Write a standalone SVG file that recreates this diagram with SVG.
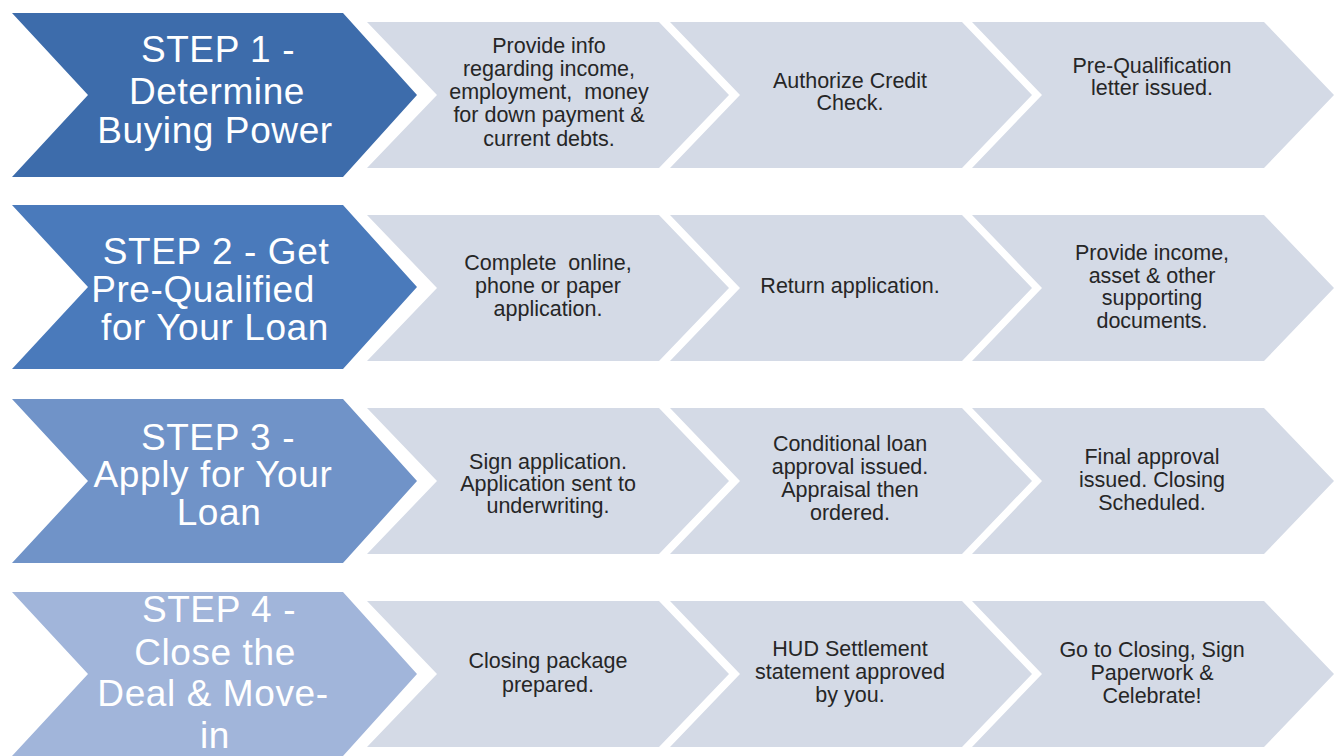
<svg xmlns="http://www.w3.org/2000/svg" xmlns:xlink="http://www.w3.org/1999/xlink" width="1338" height="756" viewBox="0 0 1338 756">
  <style>
    .lead-text { font-family: "Liberation Sans", Arial, sans-serif; font-size: 37px; letter-spacing: 0.6px; fill: #ffffff; text-anchor: middle; }
    .step-text { font-family: "Liberation Sans", Arial, sans-serif; font-size: 21.5px; fill: #262626; text-anchor: middle; white-space: pre; }
    .step-fill { fill: #d4dae6; }
  </style>
  <defs>
    <!-- lead chevron (step title), anchored at its left edge / vertical centre -->
    <polygon id="lead" points="0,-82 331,-82 405,0 331,82 0,82 76,0"/>
    <!-- process chevron, anchored at its left edge / vertical centre -->
    <polygon id="step" points="0,-73 292,-73 362,0 292,73 0,73 70,0"/>
  </defs>
  <rect width="1338" height="756" fill="#ffffff"/>

  <!-- Row 1 -->
  <g id="step1-title">
    <use xlink:href="#lead" transform="translate(12,95)" fill="#3d6cab"/>
    <text class="lead-text"><tspan x="218" y="62">STEP 1 -</tspan><tspan x="217" y="104">Determine</tspan><tspan x="215" y="143">Buying Power</tspan></text>
  </g>
  <g id="step1-a">
    <use xlink:href="#step" class="step-fill" transform="translate(367,95)"/>
    <text class="step-text"><tspan x="549" y="53">Provide info</tspan><tspan x="549" y="76">regarding income,</tspan><tspan x="549" y="99">employment,  money</tspan><tspan x="549" y="122">for down payment &amp;</tspan><tspan x="549" y="146">current debts.</tspan></text>
  </g>
  <g id="step1-b">
    <use xlink:href="#step" class="step-fill" transform="translate(670,95)"/>
    <text class="step-text"><tspan x="850" y="88">Authorize Credit</tspan><tspan x="850" y="110">Check.</tspan></text>
  </g>
  <g id="step1-c">
    <use xlink:href="#step" class="step-fill" transform="translate(972,95)"/>
    <text class="step-text"><tspan x="1152" y="73">Pre-Qualification</tspan><tspan x="1152" y="95">letter issued.</tspan></text>
  </g>

  <!-- Row 2 -->
  <g id="step2-title">
    <use xlink:href="#lead" transform="translate(12,287)" fill="#4a7abb"/>
    <text class="lead-text"><tspan x="216" y="264">STEP 2 - Get</tspan><tspan x="203" y="302">Pre-Qualified</tspan><tspan x="215" y="340">for Your Loan</tspan></text>
  </g>
  <g id="step2-a">
    <use xlink:href="#step" class="step-fill" transform="translate(367,288)"/>
    <text class="step-text"><tspan x="548" y="270">Complete  online,</tspan><tspan x="548" y="293">phone or paper</tspan><tspan x="548" y="316">application.</tspan></text>
  </g>
  <g id="step2-b">
    <use xlink:href="#step" class="step-fill" transform="translate(670,288)"/>
    <text class="step-text"><tspan x="850" y="293">Return application.</tspan></text>
  </g>
  <g id="step2-c">
    <use xlink:href="#step" class="step-fill" transform="translate(972,288)"/>
    <text class="step-text"><tspan x="1152" y="260">Provide income,</tspan><tspan x="1152" y="283">asset &amp; other</tspan><tspan x="1152" y="305">supporting</tspan><tspan x="1152" y="328">documents.</tspan></text>
  </g>

  <!-- Row 3 -->
  <g id="step3-title">
    <use xlink:href="#lead" transform="translate(12,481)" fill="#7093c8"/>
    <text class="lead-text"><tspan x="218" y="450">STEP 3 -</tspan><tspan x="213" y="487">Apply for Your</tspan><tspan x="219" y="525">Loan</tspan></text>
  </g>
  <g id="step3-a">
    <use xlink:href="#step" class="step-fill" transform="translate(367,481)"/>
    <text class="step-text"><tspan x="548" y="469">Sign application.</tspan><tspan x="548" y="491">Application sent to</tspan><tspan x="548" y="513">underwriting.</tspan></text>
  </g>
  <g id="step3-b">
    <use xlink:href="#step" class="step-fill" transform="translate(670,481)"/>
    <text class="step-text"><tspan x="850" y="451">Conditional loan</tspan><tspan x="850" y="474">approval issued.</tspan><tspan x="850" y="497">Appraisal then</tspan><tspan x="850" y="520">ordered.</tspan></text>
  </g>
  <g id="step3-c">
    <use xlink:href="#step" class="step-fill" transform="translate(972,481)"/>
    <text class="step-text"><tspan x="1152" y="464">Final approval</tspan><tspan x="1152" y="487">issued. Closing</tspan><tspan x="1152" y="510">Scheduled.</tspan></text>
  </g>

  <!-- Row 4 -->
  <g id="step4-title">
    <use xlink:href="#lead" transform="translate(12,674)" fill="#a1b5da"/>
    <text class="lead-text"><tspan x="219" y="622">STEP 4 -</tspan><tspan x="215" y="665">Close the</tspan><tspan x="213" y="706">Deal &amp; Move-</tspan><tspan x="215" y="748">in</tspan></text>
  </g>
  <g id="step4-a">
    <use xlink:href="#step" class="step-fill" transform="translate(367,674)"/>
    <text class="step-text"><tspan x="548" y="668">Closing package</tspan><tspan x="548" y="692">prepared.</tspan></text>
  </g>
  <g id="step4-b">
    <use xlink:href="#step" class="step-fill" transform="translate(670,674)"/>
    <text class="step-text"><tspan x="850" y="656">HUD Settlement</tspan><tspan x="850" y="679">statement approved</tspan><tspan x="850" y="702">by you.</tspan></text>
  </g>
  <g id="step4-c">
    <use xlink:href="#step" class="step-fill" transform="translate(972,674)"/>
    <text class="step-text"><tspan x="1152" y="657">Go to Closing, Sign</tspan><tspan x="1152" y="680">Paperwork &amp;</tspan><tspan x="1152" y="703">Celebrate!</tspan></text>
  </g>
</svg>
